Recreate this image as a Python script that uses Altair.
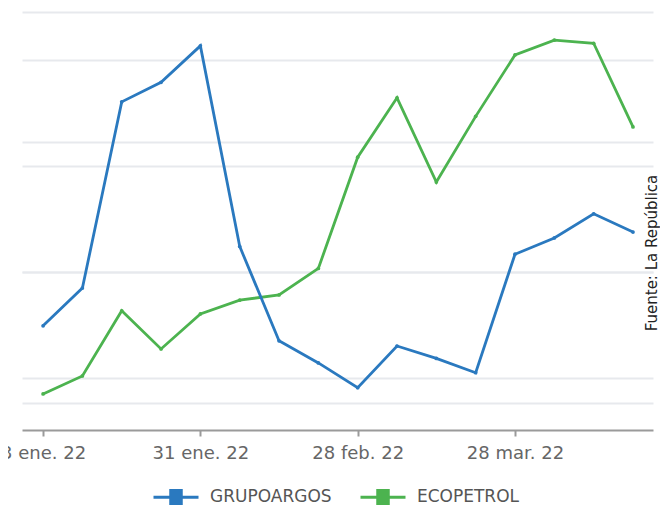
import json
import altair as alt
import pandas as pd

# ---- data ----
dates = ["2022-01-03", "2022-01-10", "2022-01-17", "2022-01-24", "2022-01-31",
         "2022-02-07", "2022-02-14", "2022-02-21", "2022-02-28", "2022-03-07",
         "2022-03-14", "2022-03-21", "2022-03-28", "2022-04-04", "2022-04-11",
         "2022-04-18"]
grupoargos = [10590, 10880, 12310, 12460, 12740, 11200, 10475, 10305, 10115,
              10435, 10340, 10230, 11140, 11265, 11450, 11310]
ecopetrol = [2570, 2604, 2727, 2655, 2721, 2747, 2757, 2807, 3017, 3129, 2970,
             3094, 3210, 3238, 3232, 3074]
series = ["GRUPOARGOS", "ECOPETROL"]
colors = ["#2a79bf", "#4cb34f"]
tick_dates = ["2022-01-03", "2022-01-31", "2022-02-28", "2022-03-28"]
tick_labels = ["3 ene. 22", "31 ene. 22", "28 feb. 22", "28 mar. 22"]
grid_left = [10000, 11000, 12000, 13000]
grid_right = [2600, 2800, 3000, 3200]
source_text = ["Fuente: La República"]

# ---- build table ----
df = pd.DataFrame({
    "date": dates * 2,
    "serie": [series[0]] * len(dates) + [series[1]] * len(dates),
    "value": grupoargos + ecopetrol,
})

tick_ms = [int(pd.Timestamp(d, tz="UTC").value // 10**6) for d in tick_dates]
label_expr = f"{json.dumps(tick_labels)}[indexof({json.dumps(tick_ms)}, time(datum.value))]"

W, H = 631, 418

x_enc = alt.X(
    "date:T",
    scale=alt.Scale(
        type="utc",
        domain=[alt.DateTime(year=2021, month=12, date=30, hours=6, utc=True),
                alt.DateTime(year=2022, month=4, date=21, hours=13, minutes=30, utc=True)],
    ),
    axis=alt.Axis(
        values=[alt.DateTime(year=int(d[:4]), month=int(d[5:7]), date=int(d[8:]), utc=True)
                for d in tick_dates],
        labelExpr=label_expr,
        title=None,
        grid=False,
        domainColor="#9a9a9a",
        domainWidth=2,
        tickColor="#9a9a9a",
        tickWidth=2,
        tickSize=6,
        labelPadding=8,
        labelFontSize=18,
        labelColor="#666666",
        labelFont="DejaVu Sans",
    ),
)

path = ("M-1,0H1M-0.3,-0.3H0.3M-0.3,-0.2H0.3M-0.3,-0.1H0.3"
        "M-0.3,0.1H0.3M-0.3,0.2H0.3M-0.3,0.3H0.3")

color_enc = alt.Color(
    "serie:N",
    scale=alt.Scale(domain=series, range=colors),
    sort=series,
    legend=alt.Legend(
        orient="none",
        legendX=130,
        legendY=461,
        direction="horizontal",
        title=None,
        symbolType=path,
        symbolSize=2025,
        symbolStrokeWidth=3,
        labelFontSize=17,
        labelColor="#555555",
        labelFont="DejaVu Sans",
        labelOffset=10,
        columnPadding=22,
        padding=0,
    ),
)

base = alt.Chart(df).encode(x=x_enc, color=color_enc)

blue = base.transform_filter(alt.datum.serie == series[0]).mark_line(
    strokeWidth=2.8, point=alt.OverlayMarkDef(size=14, filled=True)
).encode(
    y=alt.Y("value:Q",
            scale=alt.Scale(domain=[9790, 13000], nice=False, zero=False),
            axis=alt.Axis(orient="left", values=grid_left, labels=False, ticks=False,
                          domain=False, title=None, grid=True,
                          gridColor="#e7e9ed", gridWidth=2))
)

green = base.transform_filter(alt.datum.serie == series[1]).mark_line(
    strokeWidth=2.8, point=alt.OverlayMarkDef(size=14, filled=True)
).encode(
    y=alt.Y("value:Q",
            scale=alt.Scale(domain=[2502, 3291], nice=False, zero=False),
            axis=alt.Axis(orient="right", values=grid_right, labels=False, ticks=False,
                          domain=False, title=None, grid=True,
                          gridColor="#e7e9ed", gridWidth=2))
)

src = alt.Chart(pd.DataFrame({"t": source_text})).mark_text(
    angle=270, align="center", baseline="middle", fontSize=15,
    font="DejaVu Sans", color="#222222"
).encode(x=alt.value(630), y=alt.value(241), text="t:N")

chart = alt.layer(green, blue, src).resolve_scale(y="independent").properties(
    width=W, height=H,
    autosize=alt.AutoSizeParams(type="none"),
    padding={"left": 14, "top": 4, "right": 7, "bottom": 75},
    background="white",
).configure_view(stroke=None)

chart.save("out.html", embed_options={"renderer": "svg", "actions": False})
